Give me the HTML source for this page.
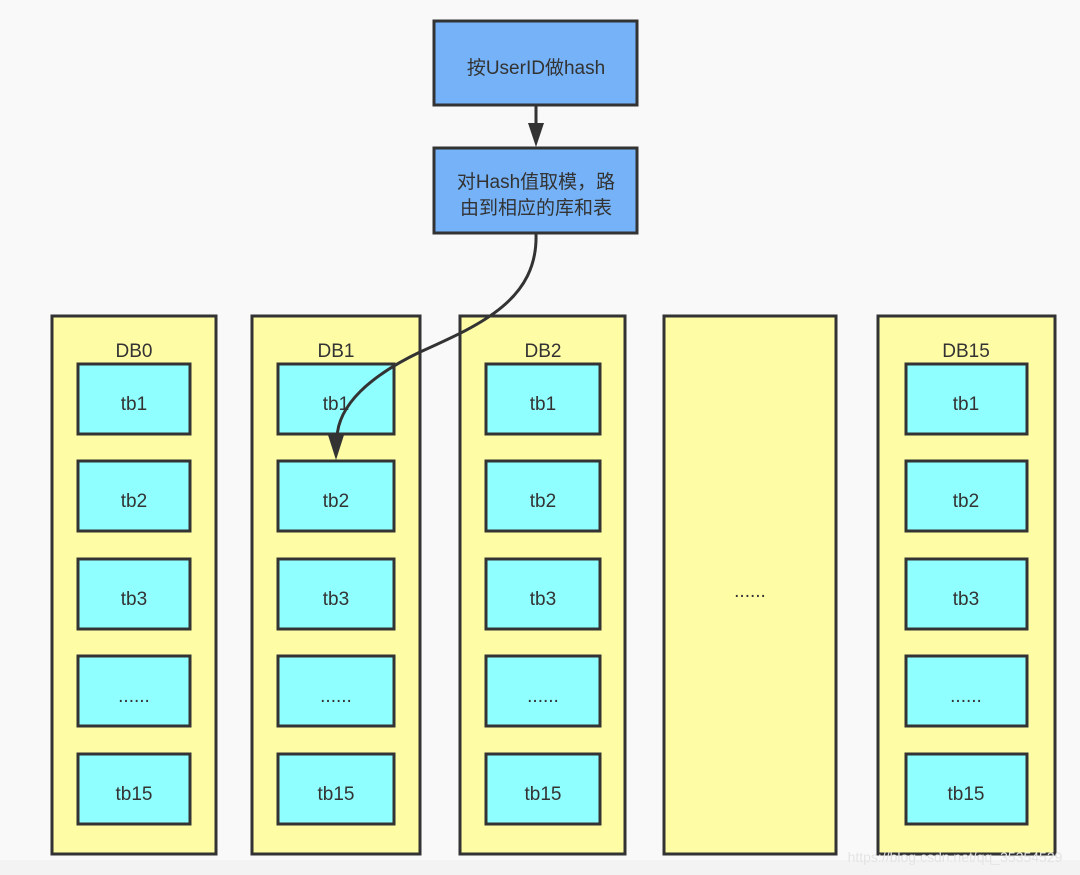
<!DOCTYPE html>
<html><head><meta charset="utf-8"><style>
html,body{margin:0;padding:0;background:#f9f9f9;}
svg{display:block;}
text{font-family:"Liberation Sans","Noto Sans CJK SC",sans-serif;fill:#333;}
text.wm{fill:#e4e4e4;}
</style></head><body>
<svg width="1080" height="875" viewBox="0 0 1080 875" xmlns="http://www.w3.org/2000/svg">
<rect x="0" y="0" width="1080" height="875" fill="#f9f9f9"/>
<rect x="0" y="860" width="1080" height="15" fill="#f3f3f3"/>
<g stroke="#333" stroke-width="3">
<rect x="434" y="21" width="203" height="84" fill="#75b2f7"/>
<rect x="434" y="148" width="203" height="85" fill="#75b2f7"/>
<rect x="52" y="316" width="164" height="538" fill="#fffca6"/>
<rect x="252" y="316" width="168" height="538" fill="#fffca6"/>
<rect x="460" y="316" width="165" height="538" fill="#fffca6"/>
<rect x="664" y="316" width="172" height="538" fill="#fffca6"/>
<rect x="878" y="316" width="177" height="538" fill="#fffca6"/>
</g>
<g stroke="#333" stroke-width="3" fill="#90ffff">
<rect x="78" y="364" width="112" height="70"/><rect x="78" y="461" width="112" height="70"/><rect x="78" y="559" width="112" height="70"/><rect x="78" y="656" width="112" height="70"/><rect x="78" y="754" width="112" height="70"/>
<rect x="278" y="364" width="116" height="70"/><rect x="278" y="461" width="116" height="70"/><rect x="278" y="559" width="116" height="70"/><rect x="278" y="656" width="116" height="70"/><rect x="278" y="754" width="116" height="70"/>
<rect x="486" y="364" width="114" height="70"/><rect x="486" y="461" width="114" height="70"/><rect x="486" y="559" width="114" height="70"/><rect x="486" y="656" width="114" height="70"/><rect x="486" y="754" width="114" height="70"/>
<rect x="906" y="364" width="121" height="70"/><rect x="906" y="461" width="121" height="70"/><rect x="906" y="559" width="121" height="70"/><rect x="906" y="656" width="121" height="70"/><rect x="906" y="754" width="121" height="70"/>
</g>
<g font-size="19" text-anchor="middle">
<text x="536" y="74">按UserID做hash</text>
<text x="536" y="188">对Hash值取模，路</text>
<text x="536" y="214">由到相应的库和表</text>
</g>
<g font-size="19" text-anchor="middle">
<text x="134" y="357">DB0</text><text x="336" y="357">DB1</text><text x="543" y="357">DB2</text><text x="966" y="357">DB15</text>
<text x="750" y="597">......</text>
</g>
<g font-size="19" text-anchor="middle">
<text x="134" y="410">tb1</text><text x="134" y="507">tb2</text><text x="134" y="605">tb3</text><text x="134" y="702">......</text><text x="134" y="800">tb15</text>
<text x="336" y="410">tb1</text><text x="336" y="507">tb2</text><text x="336" y="605">tb3</text><text x="336" y="702">......</text><text x="336" y="800">tb15</text>
<text x="543" y="410">tb1</text><text x="543" y="507">tb2</text><text x="543" y="605">tb3</text><text x="543" y="702">......</text><text x="543" y="800">tb15</text>
<text x="966" y="410">tb1</text><text x="966" y="507">tb2</text><text x="966" y="605">tb3</text><text x="966" y="702">......</text><text x="966" y="800">tb15</text>
</g>
<line x1="536" y1="106" x2="536" y2="125" stroke="#333" stroke-width="3"/>
<polygon points="528,123 544,123 536,147" fill="#333"/>
<path d="M536,234 C538,300 480,325 420,352 C370,376 338,405 337,438" fill="none" stroke="#333" stroke-width="3"/>
<polygon points="328,435 344,435 336,460" fill="#333"/>
<text class="wm" x="955" y="862" font-size="14" text-anchor="middle">https://blog.csdn.net/qq_35354529</text>
</svg>
</body></html>
